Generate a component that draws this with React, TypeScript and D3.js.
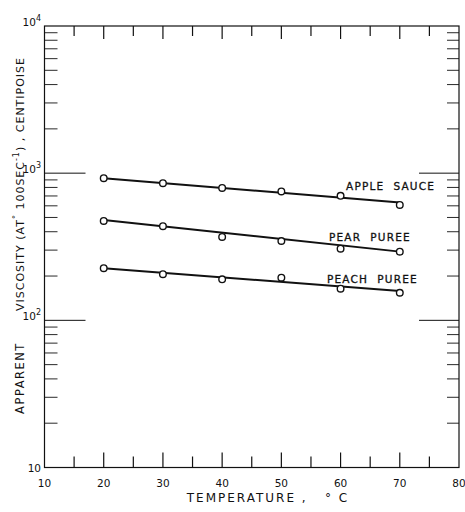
import React from "react";
import * as d3 from "d3";

const temps = [20, 30, 40, 50, 60, 70];
const appleSauce = [925, 855, 794, 751, 701, 608];
const pearPuree = [474, 436, 369, 346, 307, 293];
const peachPuree = [226, 206, 190, 195, 164, 154];
const fitTemps = [20, 70];
const appleFit = [925, 632];
const pearFit = [481, 293];
const peachFit = [226, 158];
const seriesNames = ["APPLE SAUCE", "PEAR PUREE", "PEACH PUREE"];
const xTicks = [10, 20, 30, 40, 50, 60, 70, 80];
const yDecades = [10, 100, 1000, 10000];
const yExps = ["", "2", "3", "4"];

const W = 465, H = 512;
const x = d3.scaleLinear().domain([10, 80]).range([44.5, 459]);
const y = d3.scaleLog().domain([10, 10000]).range([467.5, 26]);

const FONT = "'DejaVu Sans', 'Liberation Sans', sans-serif";

export default function App() {
  const series = [
    { name: seriesNames[0], pts: appleSauce, fit: appleFit, lx: 346, ly: 190 },
    { name: seriesNames[1], pts: pearPuree, fit: pearFit, lx: 329, ly: 241 },
    { name: seriesNames[2], pts: peachPuree, fit: peachFit, lx: 327, ly: 283 },
  ];
  const line = d3
    .line<[number, number]>()
    .x((d) => x(d[0]))
    .y((d) => y(d[1]));

  const minorY: number[] = [];
  for (let dec = 10; dec < 10000; dec *= 10) {
    for (let m = 2; m <= 9; m++) minorY.push(dec * m);
  }
  const xMinor = d3.range(15, 80, 5);
  const [x0, x1] = x.range();
  const yb = y(10), yt = y(10000);

  return (
    <div style={{ position: "absolute", left: 0, top: 0 }}>
      <svg width={W} height={H} style={{ display: "block", background: "#fff" }}>
        <g stroke="#111" fill="none" strokeWidth={1.2}>
          <rect x={x0} y={yt} width={x1 - x0} height={yb - yt} />
          {minorY.map((v) => (
            <g key={"my" + v}>
              <line x1={x0} x2={x0 + 13} y1={y(v)} y2={y(v)} strokeWidth={0.9} />
              <line x1={x1} x2={x1 - 12} y1={y(v)} y2={y(v)} strokeWidth={0.9} />
            </g>
          ))}
          {[100, 1000].map((v) => (
            <g key={"dy" + v}>
              <line x1={x0} x2={x0 + 41} y1={y(v)} y2={y(v)} strokeWidth={1} />
              <line x1={x1} x2={x1 - 40} y1={y(v)} y2={y(v)} strokeWidth={1} />
            </g>
          ))}
          {xMinor.map((t) => {
            const major = t % 10 === 0;
            return (
              <g key={"xt" + t}>
                <line x1={x(t)} x2={x(t)} y1={yb} y2={yb - (major ? 15 : 11)} />
                <line x1={x(t)} x2={x(t)} y1={yt} y2={yt + (major ? 13 : 10)} />
              </g>
            );
          })}
        </g>

        {series.map((s) => (
          <g key={s.name}>
            <path
              d={line(fitTemps.map((t, i) => [t, s.fit[i]] as [number, number])) || ""}
              stroke="#111"
              strokeWidth={2}
              fill="none"
            />
            {temps.map((t, i) => (
              <circle
                key={t}
                cx={x(t)}
                cy={y(s.pts[i])}
                r={3.3}
                fill="#fff"
                stroke="#111"
                strokeWidth={1.4}
              />
            ))}
            <text
              x={s.lx}
              y={s.ly}
              fontFamily={FONT}
              fontSize={10.5}
              letterSpacing={1.2}
              fill="#111"
              stroke="#111"
              strokeWidth={0.3}
              style={{ whiteSpace: "pre" }}
            >
              {s.name.replace(" ", "  ")}
            </text>
          </g>
        ))}

        <g fontFamily={FONT} fill="#111" fontSize={10.5}>
          {xTicks.map((t) => (
            <text key={"xl" + t} x={x(t)} y={487} textAnchor="middle">
              {t}
            </text>
          ))}
          {yDecades.map((v, i) => (
            <text
              key={"yl" + v}
              x={41}
              y={y(v) + (i === 0 ? 4 : 0)}
              textAnchor="end"
            >
              {"10"}
              {yExps[i] && (
                <tspan fontSize={8} dy={-5}>
                  {yExps[i]}
                </tspan>
              )}
            </text>
          ))}
          <text
            x={268}
            y={502}
            textAnchor="middle"
            fontSize={12}
            letterSpacing={2}
            style={{ whiteSpace: "pre" }}
          >
            {"TEMPERATURE ,   ° C"}
          </text>
          <text
            transform="translate(24,378) rotate(-90)"
            textAnchor="middle"
            fontSize={11.5}
            letterSpacing={1.5}
          >
            APPARENT
          </text>
          <text
            transform="translate(24,184) rotate(-90)"
            textAnchor="middle"
            fontSize={11}
            letterSpacing={1}
            style={{ whiteSpace: "pre" }}
          >
            {"VISCOSITY (AT"}
            <tspan fontSize={8} dy={-5}>°</tspan>
            <tspan dy={5}>{" 100SEC"}</tspan>
            <tspan fontSize={8} dy={-5}>{"-1"}</tspan>
            <tspan dy={5}>{") , CENTIPOISE"}</tspan>
          </text>
        </g>
      </svg>
    </div>
  );
}
